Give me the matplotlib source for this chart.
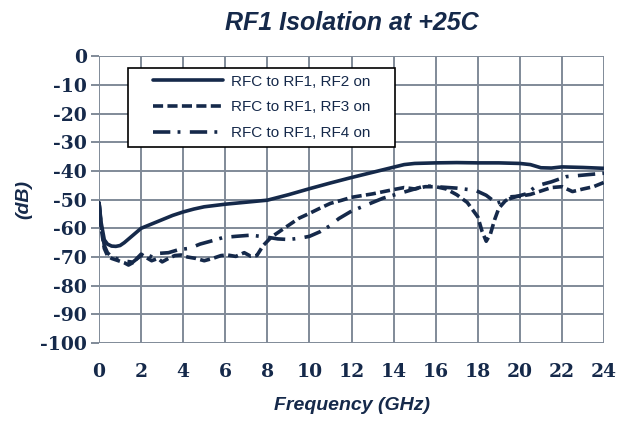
import numpy as np
import matplotlib
matplotlib.use("Agg")
import matplotlib.pyplot as plt
from matplotlib.patches import Rectangle

# RF1 isolation at +25C
freq_rf2 = [0, 0.1, 0.25, 0.4, 0.6, 0.8, 1.0, 1.2, 1.6, 2.0, 2.5, 3.0, 3.5, 4.0,
            4.5, 5.0, 6.0, 7.0, 8.0, 9.0, 10.0, 11.0, 12.0, 13.0, 14.0, 14.5,
            15.0, 16.0, 17.0, 18.0, 19.0, 20.0, 20.5, 21.0, 21.5, 22.0, 23.0, 24.0]
iso_rf2 = [-51, -58, -64, -65.5, -66.2, -66.3, -66, -65, -62.5, -60, -58.5, -57,
           -55.5, -54.3, -53.3, -52.5, -51.6, -50.9, -50.2, -48.3, -46.2, -44.2,
           -42.3, -40.5, -38.7, -37.8, -37.4, -37.2, -37.1, -37.2, -37.2, -37.4,
           -37.8, -38.9, -39.0, -38.6, -38.8, -39.1]

freq_rf3 = [0, 0.1, 0.25, 0.4, 0.6, 0.8, 1.0, 1.2, 1.4, 1.6, 1.8, 2.0, 2.2, 2.5,
            2.8, 3.0, 3.3, 3.6, 3.9, 4.2, 4.6, 5.0, 5.4, 5.8, 6.1, 6.5, 6.9, 7.2,
            7.5, 7.8, 8.2, 8.6, 9.0, 9.5, 10.0, 10.5, 11.0, 11.5, 12.0, 13.0,
            14.0, 14.5, 15.0, 15.5, 16.0, 16.5, 17.0, 17.5, 18.0, 18.2, 18.4,
            18.6, 18.8, 19.0, 19.3, 19.6, 20.0, 20.5, 21.0, 21.5, 22.0, 22.5,
            23.0, 23.5, 24.0]
iso_rf3 = [-51, -60, -67, -69.5, -70.5, -71, -71.5, -72, -72.8, -72, -70.5, -69,
           -70, -71.3, -70.5, -71.7, -70.5, -69.5, -69.3, -70, -70.5, -71.3,
           -70.5, -69.5, -69.3, -69.8, -68.5, -69.7, -69.5, -66, -63, -61, -59,
           -56.5, -54.8, -53, -51.3, -50.3, -49.2, -48, -46.5, -45.8, -46.3,
           -45.5, -45.5, -46.3, -48.3, -51, -56, -61, -64.5, -62, -57, -53,
           -50.5, -49, -48.8, -48.2, -47, -45.8, -45.5, -47.2, -46.3, -45.5, -44]

freq_rf4 = [0, 0.1, 0.25, 0.4, 0.6, 0.8, 1.0, 1.3, 1.6, 2.0, 2.3, 2.6, 2.9, 3.3,
            3.8, 4.3, 4.8, 5.4, 5.9, 6.5, 7.2, 7.9, 8.5, 9.0, 9.5, 10.0, 10.5,
            11.0, 11.4, 12.0, 12.9, 13.5, 14.3, 15.0, 15.5, 16.0, 17.0, 17.9,
            18.4, 18.9, 19.3, 19.8, 20.3, 20.8, 21.5, 22.2, 23.1, 24.0]
iso_rf4 = [-51, -59, -66, -68.5, -70, -70.5, -71, -71.5, -71.8, -69.5, -69.3,
           -70.2, -68.7, -68.5, -67.4, -67, -65.5, -64.3, -63.2, -62.8, -62.4,
           -63, -63.7, -63.9, -63.5, -62.8, -61.2, -59, -56.6, -54, -51.3, -49.5,
           -47.8, -46.3, -45.2, -45.5, -46, -46.8, -48.5, -51.3, -50.2, -49,
           -48, -45.2, -43.8, -42, -41.4, -40.8]

labels = ["RFC to RF1, RF2 on", "RFC to RF1, RF3 on", "RFC to RF1, RF4 on"]
x_ticks = list(range(0, 25, 2))
y_ticks = list(range(-100, 1, 10))

navy = "#15294a"
grid_col = "#808a98"

plt.rcParams["axes.unicode_minus"] = False

fig = plt.figure(figsize=(6.17, 4.22), dpi=100)
ax = fig.add_axes([0.1605, 0.187, 0.8185, 0.68])

lw = 2.6
ax.plot(freq_rf2, iso_rf2, color=navy, lw=lw, solid_capstyle="round", label=labels[0])
ax.plot(freq_rf3, iso_rf3, color=navy, lw=lw, dashes=(2.8, 1.2), label=labels[1])
ax.plot(freq_rf4, iso_rf4, color=navy, lw=lw, dashes=(4.8, 2.0, 0.8, 2.6), label=labels[2])

ax.set_xlim(0, 24)
ax.set_ylim(-100, 0)
ax.set_xticks(x_ticks)
ax.set_yticks(y_ticks)
ax.grid(True, color=grid_col, lw=1.4)
ax.set_axisbelow(True)
for s in ax.spines.values():
    s.set_visible(False)
ax.tick_params(axis="y", length=5.5, width=1.4, color=grid_col, pad=3)
ax.tick_params(axis="x", length=0, pad=14)
for lab in ax.get_xticklabels() + ax.get_yticklabels():
    lab.set_fontfamily("DejaVu Serif")
    lab.set_fontweight("bold")
    lab.set_fontsize(13.5)
    lab.set_color(navy)

sans = "Liberation Sans"
ax.set_title("RF1 Isolation at +25C", fontsize=18, fontweight="bold", style="italic",
             family=sans, color=navy, pad=19)
ax.set_xlabel("Frequency (GHz)", fontsize=14, fontweight="bold", style="italic",
              family=sans, color=navy, labelpad=12)
ax.set_ylabel("(dB)", fontsize=14, fontweight="bold", style="italic",
              family=sans, color=navy, labelpad=6)

# legend box drawn as its own frame, entries centred inside it
box = Rectangle((0.2075, 0.6517), 0.4327, 0.1872, transform=fig.transFigure,
                facecolor="white", edgecolor="black", lw=1.2, zorder=4,
                clip_on=False)
ax.add_patch(box)
leg = ax.legend(loc="center", bbox_to_anchor=(0.4238, 0.7453),
                bbox_transform=fig.transFigure, frameon=False,
                handlelength=4.6, handletextpad=0.5, labelspacing=0.78,
                borderpad=0, prop={"family": sans, "size": 11})
leg.set_zorder(6)
for t in leg.get_texts():
    t.set_color(navy)

fig.savefig("out.png", dpi=100)
